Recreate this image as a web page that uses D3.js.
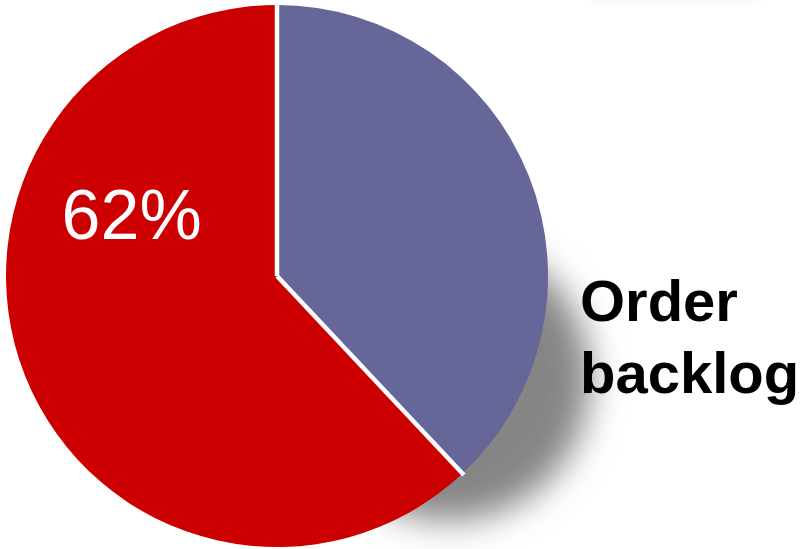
<!DOCTYPE html>
<html>
<head>
<meta charset="utf-8">
<script src="https://cdn.jsdelivr.net/npm/d3@7"></script>
<style>
  html, body { margin: 0; padding: 0; background: #fff; }
  svg { display: block; }
</style>
</head>
<body>
<script>
// slices, clockwise from 12 o'clock
var categories = ["Order backlog", "Other"];
var values = [38, 62];
var colors = ["#666699", "#CC0000"];
var sliceLabels = ["", "62%"];
var legendLines = ["Order", "backlog"];

var W = 803, H = 549;
var cx = 277, cy = 276, R = 271;

var svg = d3.select("body").append("svg")
  .attr("width", W)
  .attr("height", H);

var defs = svg.append("defs");
defs.append("filter")
  .attr("id", "soft")
  .attr("x", "-50%").attr("y", "-50%")
  .attr("width", "200%").attr("height", "200%")
  .append("feGaussianBlur")
  .attr("stdDeviation", 17);
defs.append("filter")
  .attr("id", "faint")
  .attr("x", "-50%").attr("y", "-200%")
  .attr("width", "200%").attr("height", "500%")
  .append("feGaussianBlur")
  .attr("stdDeviation", 6);

// faint shadow of something above the frame, top right
svg.append("rect")
  .attr("x", 590).attr("y", -16)
  .attr("width", 170).attr("height", 16)
  .attr("fill", "#000")
  .attr("opacity", 0.05)
  .attr("filter", "url(#faint)");

// drop shadow toward lower right
var shAng = 31 * Math.PI / 180, shDist = 200;
svg.append("circle")
  .attr("cx", cx + shDist * Math.cos(shAng))
  .attr("cy", cy + shDist * Math.sin(shAng))
  .attr("r", 142)
  .attr("fill", "#858585")
  .attr("filter", "url(#soft)");

var pie = d3.pie().sort(null).value(function(d){ return d; });
var arc = d3.arc().innerRadius(0).outerRadius(R);

var gPie = svg.append("g")
  .attr("transform", "translate(" + cx + "," + cy + ")");

gPie.selectAll("path.slice")
  .data(pie(values))
  .enter().append("path")
  .attr("class", "slice")
  .attr("d", arc)
  .attr("fill", function(d, i){ return colors[i]; });

// white separators between slices
gPie.selectAll("line.sep")
  .data(pie(values))
  .enter().append("line")
  .attr("class", "sep")
  .attr("x1", 0).attr("y1", 0)
  .attr("x2", function(d){ return (R + 2) * Math.sin(d.startAngle); })
  .attr("y2", function(d){ return -(R + 2) * Math.cos(d.startAngle); })
  .attr("stroke", "#fff")
  .attr("stroke-width", 4.5);

// slice label, placed in the upper part of the red slice
var labelAng = 293 * Math.PI / 180, labelR = 158;
gPie.append("text")
  .attr("x", labelR * Math.sin(labelAng))
  .attr("y", -labelR * Math.cos(labelAng))
  .attr("dy", "0.36em")
  .attr("text-anchor", "middle")
  .style("font-family", "'Liberation Sans', Arial, sans-serif")
  .style("font-size", "70px")
  .attr("fill", "#fff")
  .text(sliceLabels[1]);

// category name at right
svg.append("g").selectAll("text")
  .data(legendLines)
  .enter().append("text")
  .attr("x", 580)
  .attr("y", function(d, i){ return 321 + i * 72; })
  .style("font-family", "'Liberation Sans', Arial, sans-serif")
  .style("font-size", "58px")
  .style("font-weight", "bold")
  .attr("fill", "#000")
  .text(function(d){ return d; });
</script>
</body>
</html>
